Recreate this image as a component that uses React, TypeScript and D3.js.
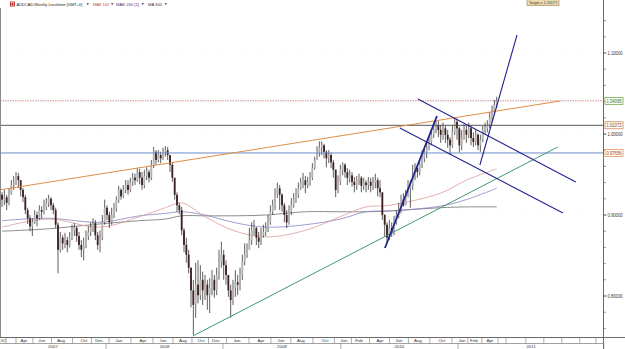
import React from 'react'
import * as d3 from 'd3'

// weekly AUDCAD bars (open = previous close)
const firstOpen = 0.925
const closes = [
  0.919, 0.922, 0.915, 0.927, 0.937, 0.940, 0.948, 0.943, 0.931, 0.922,
  0.906, 0.896, 0.886, 0.891, 0.900, 0.896, 0.906, 0.904, 0.910, 0.915,
  0.920, 0.912, 0.906, 0.888, 0.857, 0.872, 0.865, 0.869, 0.863, 0.872,
  0.881, 0.884, 0.874, 0.863, 0.857, 0.863, 0.874, 0.879, 0.884, 0.890,
  0.875, 0.863, 0.872, 0.891, 0.909, 0.900, 0.891, 0.900, 0.909, 0.919,
  0.931, 0.923, 0.931, 0.937, 0.931, 0.940, 0.946, 0.943, 0.953, 0.946,
  0.937, 0.948, 0.953, 0.946, 0.962, 0.978, 0.968, 0.974, 0.970, 0.978,
  0.980, 0.974, 0.962, 0.946, 0.925, 0.912, 0.906, 0.881, 0.863, 0.851,
  0.835, 0.807, 0.789, 0.814, 0.801, 0.820, 0.807, 0.814, 0.801, 0.810,
  0.820, 0.807, 0.826, 0.842, 0.851, 0.838, 0.826, 0.807, 0.795, 0.810,
  0.817, 0.814, 0.826, 0.842, 0.851, 0.857, 0.869, 0.881, 0.884, 0.872,
  0.867, 0.875, 0.879, 0.884, 0.891, 0.904, 0.912, 0.925, 0.933, 0.925,
  0.912, 0.900, 0.891, 0.904, 0.912, 0.919, 0.925, 0.933, 0.940, 0.943,
  0.937, 0.941, 0.946, 0.958, 0.968, 0.978, 0.983, 0.986, 0.978, 0.970,
  0.974, 0.965, 0.956, 0.931, 0.941, 0.956, 0.962, 0.953, 0.946, 0.949,
  0.941, 0.937, 0.943, 0.946, 0.936, 0.940, 0.937, 0.941, 0.936, 0.940,
  0.943, 0.933, 0.928, 0.900, 0.888, 0.872, 0.884, 0.879, 0.891, 0.900,
  0.906, 0.919, 0.912, 0.925, 0.933, 0.937, 0.949, 0.958, 0.953, 0.962,
  0.970, 0.978, 0.983, 0.990, 0.999, 1.005, 1.011, 1.005, 0.999, 1.007,
  0.999, 0.993, 0.986, 1.002, 1.015, 1.007, 0.986, 0.995, 1.005, 0.999,
  1.007, 0.995, 0.990, 0.999, 0.986, 0.993, 1.005, 1.007, 1.012, 1.020,
  1.027, 1.036, 1.041
]
const highs = [
  0.928, 0.931, 0.925, 0.933, 0.943, 0.948, 0.953, 0.952, 0.941, 0.933,
  0.925, 0.909, 0.900, 0.896, 0.906, 0.904, 0.912, 0.911, 0.919, 0.921,
  0.925, 0.922, 0.915, 0.909, 0.891, 0.879, 0.875, 0.878, 0.873, 0.879,
  0.888, 0.890, 0.886, 0.879, 0.869, 0.872, 0.881, 0.886, 0.891, 0.896,
  0.894, 0.879, 0.881, 0.900, 0.919, 0.912, 0.904, 0.909, 0.915, 0.923,
  0.936, 0.933, 0.937, 0.943, 0.943, 0.946, 0.952, 0.951, 0.958, 0.957,
  0.953, 0.956, 0.959, 0.956, 0.968, 0.984, 0.980, 0.980, 0.978, 0.983,
  0.985, 0.984, 0.974, 0.964, 0.946, 0.928, 0.915, 0.910, 0.884, 0.872,
  0.857, 0.835, 0.820, 0.841, 0.844, 0.838, 0.830, 0.826, 0.820, 0.822,
  0.832, 0.826, 0.835, 0.857, 0.867, 0.857, 0.844, 0.826, 0.814, 0.820,
  0.832, 0.826, 0.835, 0.851, 0.865, 0.865, 0.884, 0.891, 0.894, 0.885,
  0.879, 0.884, 0.888, 0.891, 0.900, 0.912, 0.919, 0.933, 0.940, 0.937,
  0.927, 0.915, 0.906, 0.912, 0.921, 0.927, 0.933, 0.940, 0.946, 0.952,
  0.948, 0.947, 0.953, 0.964, 0.972, 0.985, 0.991, 0.991, 0.988, 0.980,
  0.980, 0.977, 0.968, 0.953, 0.949, 0.962, 0.965, 0.964, 0.958, 0.956,
  0.953, 0.947, 0.948, 0.951, 0.948, 0.946, 0.943, 0.947, 0.946, 0.947,
  0.951, 0.946, 0.943, 0.925, 0.901, 0.891, 0.894, 0.891, 0.899, 0.906,
  0.915, 0.925, 0.927, 0.931, 0.943, 0.943, 0.962, 0.964, 0.962, 0.968,
  0.980, 0.984, 0.989, 0.996, 1.005, 1.014, 1.017, 1.016, 1.011, 1.014,
  1.010, 1.005, 0.996, 1.011, 1.020, 1.019, 1.009, 1.005, 1.012, 1.010,
  1.014, 1.010, 1.002, 1.005, 1.001, 0.999, 1.010, 1.014, 1.017, 1.027,
  1.035, 1.042, 1.046
]
const lows = [
  0.910, 0.912, 0.906, 0.912, 0.925, 0.931, 0.937, 0.933, 0.923, 0.916,
  0.901, 0.889, 0.880, 0.874, 0.889, 0.886, 0.894, 0.896, 0.901, 0.906,
  0.910, 0.906, 0.901, 0.884, 0.828, 0.854, 0.857, 0.859, 0.854, 0.860,
  0.869, 0.874, 0.867, 0.857, 0.848, 0.844, 0.859, 0.869, 0.874, 0.879,
  0.869, 0.857, 0.854, 0.869, 0.888, 0.894, 0.884, 0.888, 0.896, 0.904,
  0.915, 0.919, 0.921, 0.927, 0.925, 0.928, 0.936, 0.937, 0.941, 0.938,
  0.931, 0.933, 0.943, 0.940, 0.943, 0.958, 0.962, 0.965, 0.964, 0.968,
  0.972, 0.968, 0.953, 0.941, 0.919, 0.904, 0.901, 0.875, 0.854, 0.841,
  0.828, 0.786, 0.752, 0.773, 0.791, 0.795, 0.789, 0.795, 0.783, 0.779,
  0.801, 0.798, 0.801, 0.820, 0.835, 0.820, 0.814, 0.799, 0.773, 0.789,
  0.799, 0.801, 0.807, 0.820, 0.838, 0.847, 0.857, 0.863, 0.875, 0.863,
  0.859, 0.863, 0.872, 0.874, 0.879, 0.888, 0.900, 0.906, 0.921, 0.906,
  0.904, 0.891, 0.884, 0.888, 0.900, 0.909, 0.915, 0.921, 0.931, 0.933,
  0.927, 0.933, 0.936, 0.943, 0.956, 0.968, 0.972, 0.974, 0.970, 0.959,
  0.964, 0.958, 0.946, 0.922, 0.927, 0.937, 0.949, 0.946, 0.937, 0.940,
  0.935, 0.928, 0.931, 0.937, 0.928, 0.931, 0.928, 0.931, 0.928, 0.931,
  0.933, 0.923, 0.922, 0.894, 0.873, 0.865, 0.869, 0.873, 0.875, 0.888,
  0.896, 0.902, 0.910, 0.912, 0.922, 0.909, 0.931, 0.943, 0.946, 0.949,
  0.958, 0.965, 0.970, 0.980, 0.986, 0.995, 1.001, 0.996, 0.989, 0.993,
  0.989, 0.983, 0.974, 0.983, 0.999, 0.993, 0.977, 0.980, 0.993, 0.989,
  0.995, 0.986, 0.984, 0.986, 0.980, 0.978, 0.990, 1.000, 1.002, 1.007,
  1.015, 1.023, 1.032
]

// moving averages sampled at bar indices
const maIndex = [0, 20, 42, 59, 70, 77, 87, 99, 113, 130, 145, 156, 166, 188, 199, 212]
const mae100 = [0.885, 0.895, 0.885, 0.898, 0.909, 0.915, 0.898, 0.881, 0.873, 0.881, 0.898, 0.910, 0.912, 0.927, 0.943, 0.957]
const mae200 = [0.893, 0.896, 0.891, 0.899, 0.902, 0.904, 0.900, 0.891, 0.885, 0.888, 0.895, 0.904, 0.905, 0.911, 0.919, 0.933]
const ma300 = [0.880, 0.883, 0.889, 0.893, 0.895, 0.899, 0.899, 0.899, 0.900, 0.904, 0.904, 0.904, 0.905, 0.909, 0.910, 0.910]

// horizontal levels
const levelPrices = [1.04095, 1.01072, 0.97656]
const levelLabels = ['1.04095', '1.01072', '0.97656']

// trend lines: [startIndex, startPrice, endIndex, endPrice]
const orangeLine = [-0.9, 0.931, 239.1, 1.0407]
const greenLine = [81.8, 0.7506, 238.2, 0.984]
const blueLines = [
  [164.1, 0.8593, 186.4, 1.0222],
  [178.2, 1.0432, 245.9, 0.9407],
  [170.5, 1.0074, 240.4, 0.9025],
  [204.8, 0.9617, 220.7, 1.1222]
]

const priceTicks = [0.8, 0.9, 1.0, 1.1]
const monthLabels = ['Apr', 'Jun', 'Aug', 'Oct', 'Dec', 'Jan', 'Apr', 'Jun', 'Aug', 'Oct', 'Dec', 'Jan', 'Apr', 'Jun', 'Aug', 'Oct', 'Jan', 'Feb', 'Apr', 'Jun', 'Aug', 'Oct', 'Jan', 'Feb', 'Apr']
const monthAt = [9.4, 17.1, 25.3, 35.1, 41.6, 50.1, 60.4, 69.0, 77.5, 85.3, 91.7, 100.7, 111.0, 119.5, 128.1, 138.4, 146.5, 153.0, 162.0, 170.1, 178.2, 188.5, 197.1, 202.2, 209.1]
const emptyCells = [216, 224.5, 232.2, 239.9, 247.6, 254.5]
const yearLabels = ['2007', '2008', '2009', '2010', '2011']
const yearBounds = [-0.9, 44.6, 94.7, 145.2, 195.4, 257.9]

const W = 625
const H = 349
const FONT = 'Liberation Sans, Arial, sans-serif'

export default function App() {
  const x = d3.scaleLinear().domain([0, closes.length - 1]).range([2, 496.7])
  const y = d3.scaleLinear().domain([0.7494, 1.1543]).range([337, 9])
  const right = 603.5
  const axisY = 337.5

  const opens = closes.map((c, i) => (i === 0 ? firstOpen : closes[i - 1]))

  const maLine = d3.line<number>()
    .x((_, k) => x(maIndex[k]))
    .y(v => y(v))
    .curve(d3.curveCatmullRom)

  const seg = (l: number[], color: string, w: number, key: string) => (
    <line key={key} x1={x(l[0])} y1={y(l[1])} x2={x(l[2])} y2={y(l[3])} stroke={color} strokeWidth={w} />
  )

  const minorTicks = d3.range(0.76, 1.155, 0.02)
  const monthX = monthAt.map(m => x(m))
  const monthSeps = [6, 16, ...monthX.slice(1).map((m, k) => (m + monthX[k]) / 2), (monthX[monthX.length - 1] + x(emptyCells[0])) / 2, ...emptyCells.map(c => x(c))]

  return (
    <svg width={W} height={H} style={{ position: 'absolute', left: 0, top: 0, background: '#fff' }} fontFamily={FONT}>
      <defs>
        <clipPath id="plot">
          <rect x={0} y={8} width={right} height={axisY - 8} />
        </clipPath>
      </defs>

      {/* faint grid */}
      {priceTicks.map(p => (
        <line key={'g' + p} x1={0} x2={right} y1={y(p)} y2={y(p)} stroke="#dcdcdc" strokeWidth={0.6} strokeDasharray="1,19" />
      ))}

      <g clipPath="url(#plot)">
        {/* moving averages */}
        <path d={maLine(ma300) || ''} fill="none" stroke="#6e6e6e" strokeWidth={0.8} />
        <path d={maLine(mae200) || ''} fill="none" stroke="#8a84c4" strokeWidth={0.8} />
        <path d={maLine(mae100) || ''} fill="none" stroke="#dd9a9a" strokeWidth={0.8} />

        {/* candles */}
        {closes.map((c, i) => {
          const o = opens[i]
          const up = c >= o
          const top = Math.max(o, c)
          const bot = Math.min(o, c)
          const hi = Math.max(highs[i], top)
          const lo = Math.min(lows[i], bot)
          const cx = x(i)
          return (
            <g key={i}>
              <line x1={cx} x2={cx} y1={y(hi)} y2={y(lo)} stroke="#1a1a1a" strokeWidth={0.7} />
              <rect x={cx - 0.9} width={1.8} y={y(top)} height={Math.max(0.8, y(bot) - y(top))}
                fill={up ? '#b4b4b4' : '#3d1f1f'} />
            </g>
          )
        })}

        {/* horizontal levels */}
        <line x1={0} x2={right} y1={y(levelPrices[0])} y2={y(levelPrices[0])} stroke="#c98080" strokeWidth={0.9} strokeDasharray="1.5,1" />
        <line x1={0} x2={right} y1={y(levelPrices[1])} y2={y(levelPrices[1])} stroke="#444" strokeWidth={0.9} />
        <line x1={0} x2={right} y1={y(levelPrices[2])} y2={y(levelPrices[2])} stroke="#6b8ccc" strokeWidth={1} />

        {/* trend lines */}
        {seg(orangeLine, '#df8d45', 1, 'or')}
        {seg(greenLine, '#3f9a72', 1, 'gr')}
        {blueLines.map((l, k) => seg(l, '#23238f', k === 0 ? 1.8 : 1.1, 'b' + k))}
      </g>

      {/* frame */}
      <line x1={0.5} x2={0.5} y1={8} y2={axisY} stroke="#8a8a8a" strokeWidth={1} />
      <line x1={right} x2={right} y1={0} y2={H} stroke="#6a6a6a" strokeWidth={1} />
      <line x1={0} x2={W} y1={axisY} y2={axisY} stroke="#6a6a6a" strokeWidth={1} />
      <line x1={0} x2={right} y1={343.5} y2={343.5} stroke="#8a8a8a" strokeWidth={0.8} />

      {/* price axis */}
      {minorTicks.map(p => (
        <line key={'t' + p.toFixed(2)} x1={right} x2={right + 2.5} y1={y(p)} y2={y(p)} stroke="#555" strokeWidth={0.6} />
      ))}
      {priceTicks.map(p => (
        <g key={'l' + p}>
          <line x1={right} x2={right + 3} y1={y(p)} y2={y(p)} stroke="#555" strokeWidth={0.7} />
          <text x={607.5} y={y(p) + 1.7} fontSize={4.8} fill="#333" textLength={15} lengthAdjust="spacingAndGlyphs">{p.toFixed(5)}</text>
        </g>
      ))}
      {levelPrices.map((p, k) => {
        const stroke = ['#5f9a3c', '#c9774a', '#d8884a'][k]
        const fill = ['#2f6a1c', '#8a3a1a', '#a03020'][k]
        return (
          <g key={'lv' + k}>
            <rect x={605} y={y(p) - 3.5} width={18} height={7} fill="#fffdf4" stroke={stroke} strokeWidth={0.7} />
            <text x={606.5} y={y(p) + 1.7} fontSize={4.8} fill={fill} textLength={15} lengthAdjust="spacingAndGlyphs">{levelLabels[k]}</text>
          </g>
        )
      })}

      {/* time axis */}
      {monthSeps.map((sx, k) => (
        <line key={'ms' + k} x1={sx} x2={sx} y1={axisY} y2={343.5} stroke="#777" strokeWidth={0.6} />
      ))}
      {monthLabels.map((m, k) => (
        <text key={'m' + k} x={monthX[k]} y={342} fontSize={4.4} textAnchor="middle" fill="#333">{m}</text>
      ))}
      <text x={0.5} y={341.8} fontSize={2.8} fill="#333" textLength={5} lengthAdjust="spacingAndGlyphs">2007</text>
      {yearBounds.slice(1).map((b, k) => (
        <line key={'ys' + k} x1={x(b)} x2={x(b)} y1={343.5} y2={H} stroke="#777" strokeWidth={0.6} />
      ))}
      {yearLabels.map((yl, k) => (
        <text key={'y' + k} x={(x(yearBounds[k]) + x(yearBounds[k + 1])) / 2} y={348} fontSize={4.4} textAnchor="middle" fill="#333">{yl}</text>
      ))}

      {/* title / indicators */}
      <rect x={10} y={1.5} width={5} height={5} fill="#b8302a" />
      <rect x={11.2} y={2.7} width={2.6} height={2.6} fill="none" stroke="#fff" strokeWidth={0.5} />
      <text x={16.5} y={6} fontSize={4.1} fill="#222" textLength={66} lengthAdjust="spacingAndGlyphs">AUDCAD,Weekly Localtime (GMT+0)</text>
      <path d="M86.5,3.3 L89,3.3 L87.75,5 Z" fill="#333" />
      <text x={93} y={6} fontSize={4.3} fill="#c83a3a" textLength={16} lengthAdjust="spacingAndGlyphs">MAE 100</text>
      <path d="M111,3.3 L113.5,3.3 L112.25,5 Z" fill="#333" />
      <text x={116} y={6} fontSize={4.3} fill="#3a3a8a" textLength={23} lengthAdjust="spacingAndGlyphs">MAE 200 [1]</text>
      <path d="M141.5,3.3 L144,3.3 L142.75,5 Z" fill="#333" />
      <text x={148} y={6} fontSize={4.3} fill="#333" textLength={14} lengthAdjust="spacingAndGlyphs">MA 300</text>
      <path d="M164.5,3.3 L167,3.3 L165.75,5 Z" fill="#333" />

      {/* target tag */}
      <rect x={527} y={-0.5} width={32} height={6} fill="#ecd9ae" stroke="#9a7a4a" strokeWidth={0.6} />
      <text x={529} y={4} fontSize={4.4} fill="#333" textLength={28} lengthAdjust="spacingAndGlyphs">Target = 1.15177</text>
    </svg>
  )
}
